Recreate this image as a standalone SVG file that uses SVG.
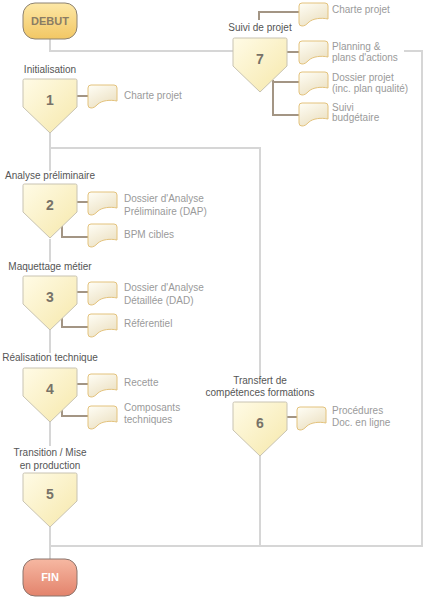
<svg xmlns="http://www.w3.org/2000/svg" xmlns:xlink="http://www.w3.org/1999/xlink" width="429" height="603" viewBox="0 0 429 603">
<defs>
<linearGradient id="gPent" x1="0" y1="0" x2="1" y2="1">
<stop offset="0" stop-color="#fffbe6"/><stop offset="1" stop-color="#f6e8ab"/>
</linearGradient>
<linearGradient id="gDoc" x1="0" y1="0" x2="0.6" y2="1">
<stop offset="0" stop-color="#fffef6"/><stop offset="1" stop-color="#ece1c3"/>
</linearGradient>
<linearGradient id="gStart" x1="0" y1="0" x2="0" y2="1">
<stop offset="0" stop-color="#fde8a6"/><stop offset="1" stop-color="#f2c764"/>
</linearGradient>
<linearGradient id="gEnd" x1="0" y1="0" x2="0" y2="1">
<stop offset="0" stop-color="#f6b8a2"/><stop offset="1" stop-color="#e3836c"/>
</linearGradient>
<path id="pent" d="M1.5,0 H52.5 Q54,0 54,1.5 V28 L27,54 L0,28 V1.5 Q0,0 1.5,0 Z"/>
<path id="doc" d="M3,0 H26 Q29,0 29,3 V16 C22,14.5 14,15.5 10,19 C7,22 5.5,23 3,23 Q0,23 0,20 V3 Q0,0 3,0 Z"/>
</defs>
<style>
.flow{stroke:#d6d6d6;stroke-width:2;fill:none}
.link{stroke:#a39584;stroke-width:2;fill:none}
.pent{fill:url(#gPent);stroke:#c8c3b2;stroke-width:1}
.doc{fill:url(#gDoc);stroke:#e3c27c;stroke-width:1}
.num{font-family:"Liberation Sans",Arial,sans-serif;font-size:14px;font-weight:bold;fill:#777268;text-anchor:middle}
.lbl{font-family:"Liberation Sans",Arial,sans-serif;font-size:10px;fill:#555;text-anchor:middle}
.art{font-family:"Liberation Sans",Arial,sans-serif;font-size:10px;fill:#9a9a9a}
.term{font-family:"Liberation Sans",Arial,sans-serif;font-size:11px;font-weight:bold;text-anchor:middle}
</style>
<rect width="429" height="603" fill="#ffffff"/>
<g id="connectors">
<path class="flow" d="M50,39 V51 H233 M404,51 H422 V546 H50 M50,133 V171 M50,148 H260 V377 M260,455 V546 M50,239 V262 M50,330 V353 M50,422 V446 M50,527 V559"/>
<path class="link" d="M77,96 H88"/>
<path class="link" d="M77,202 H88 M62,226 V237 H88"/>
<path class="link" d="M77,292 H88 M62,318 V327 H88"/>
<path class="link" d="M77,384 H88 M62,410 V416 H88"/>
<path class="link" d="M286,417 H297"/>
<path class="link" d="M259,20 V12 H299 M287,52 H299 M273,80 V115 H299 M273,82 H299"/>
</g>
<g id="debut">
<rect x="23" y="3" width="54" height="36" rx="12" fill="url(#gStart)" stroke="#8c8272" stroke-width="1"/>
<text class="term" x="50" y="25" fill="#8a7c64">DEBUT</text>
</g>
<g id="fin">
<rect x="23" y="559" width="54" height="37" rx="12" fill="url(#gEnd)" stroke="#8a746c" stroke-width="1"/>
<text class="term" x="50" y="581" fill="#ffffff">FIN</text>
</g>
<g id="n1">
<text class="lbl" x="50" y="73">Initialisation</text>
<use href="#pent" class="pent" x="23" y="79"/>
<text class="num" x="50" y="105">1</text>
<use href="#doc" class="doc" x="88" y="85"/>
<text class="art" x="124" y="99">Charte projet</text>
</g>
<g id="n2">
<text class="lbl" x="50" y="179">Analyse préliminaire</text>
<use href="#pent" class="pent" x="23" y="184"/>
<text class="num" x="50" y="210">2</text>
<use href="#doc" class="doc" x="88" y="192"/>
<text class="art" x="124" y="202">Dossier d'Analyse</text>
<text class="art" x="124" y="215">Préliminaire (DAP)</text>
<use href="#doc" class="doc" x="88" y="224"/>
<text class="art" x="124" y="238">BPM cibles</text>
</g>
<g id="n3">
<text class="lbl" x="50" y="270">Maquettage métier</text>
<use href="#pent" class="pent" x="23" y="276"/>
<text class="num" x="50" y="302">3</text>
<use href="#doc" class="doc" x="88" y="282"/>
<text class="art" x="124" y="291">Dossier d'Analyse</text>
<text class="art" x="124" y="304">Détaillée (DAD)</text>
<use href="#doc" class="doc" x="88" y="314"/>
<text class="art" x="124" y="327">Référentiel</text>
</g>
<g id="n4">
<text class="lbl" x="50" y="361">Réalisation technique</text>
<use href="#pent" class="pent" x="23" y="368"/>
<text class="num" x="50" y="394">4</text>
<use href="#doc" class="doc" x="88" y="374"/>
<text class="art" x="124" y="386">Recette</text>
<use href="#doc" class="doc" x="88" y="406"/>
<text class="art" x="124" y="411">Composants</text>
<text class="art" x="124" y="423">techniques</text>
</g>
<g id="n5">
<text class="lbl" x="50" y="456">Transition / Mise</text>
<text class="lbl" x="50" y="469">en production</text>
<use href="#pent" class="pent" x="23" y="473"/>
<text class="num" x="50" y="499">5</text>
</g>
<g id="n6">
<text class="lbl" x="260" y="384">Transfert de</text>
<text class="lbl" x="260" y="396">compétences formations</text>
<use href="#pent" class="pent" x="233" y="402"/>
<text class="num" x="260" y="428">6</text>
<use href="#doc" class="doc" x="297" y="407"/>
<text class="art" x="332" y="414">Procédures</text>
<text class="art" x="332" y="426">Doc. en ligne</text>
</g>
<g id="n7">
<text class="lbl" x="260" y="31">Suivi de projet</text>
<use href="#pent" class="pent" x="233" y="38"/>
<text class="num" x="260" y="64">7</text>
<use href="#doc" class="doc" x="299" y="3"/>
<text class="art" x="332" y="13">Charte projet</text>
<use href="#doc" class="doc" x="299" y="41"/>
<text class="art" x="332" y="50">Planning &amp;</text>
<text class="art" x="332" y="61">plans d'actions</text>
<use href="#doc" class="doc" x="299" y="72"/>
<text class="art" x="332" y="81">Dossier projet</text>
<text class="art" x="332" y="92">(inc. plan qualité)</text>
<use href="#doc" class="doc" x="299" y="103"/>
<text class="art" x="332" y="111">Suivi</text>
<text class="art" x="332" y="121">budgétaire</text>
</g>
</svg>
